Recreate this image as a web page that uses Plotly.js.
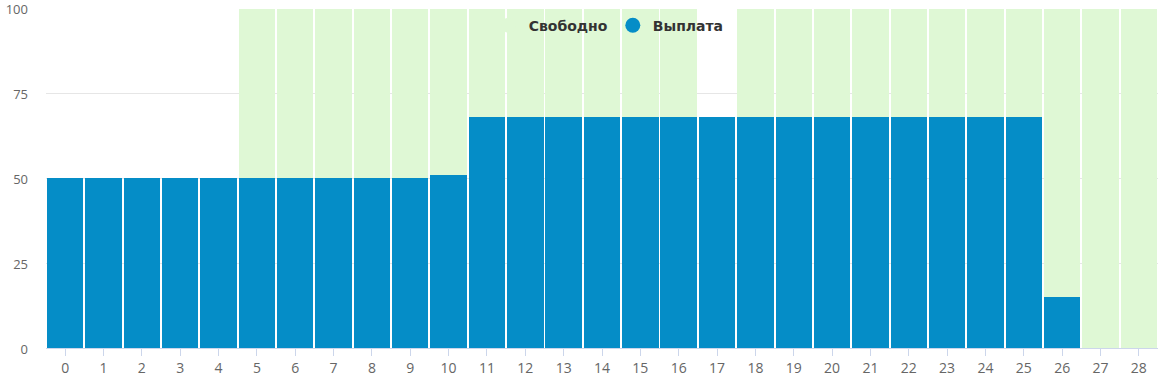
<!DOCTYPE html>
<html><head><meta charset="utf-8">
<script src="https://cdn.plot.ly/plotly-3.0.1.min.js"></script>
<style>html,body{margin:0;padding:0;background:#fff}#c{width:1158px;height:376px}</style>
</head><body><div id="c"></div>
<script>
const categories = ['0','1','2','3','4','5','6','7','8','9','10','11','12','13','14','15','16','17','18','19','20','21','22','23','24','25','26','27','28'];
const payout = [50,50,50,50,50,50,50,50,50,50,51,68,68,68,68,68,68,68.1,68,68,68,68,68,68,68,68,15,0,0];
const free = [0,0,0,0,0,50,50,50,50,50,49,32,32,32,32,32,32,0,32,32,32,32,32,32,32,32,85,100,100];
const yTicks = [0,25,50,75,100];
const blue = '#058dc7', green = '#dff8d5';
const traces = [
  {type:'bar', x:categories, y:payout, marker:{color:blue}, showlegend:false, hoverinfo:'y'},
  {type:'bar', x:categories, y:free, marker:{color:green}, showlegend:false, hoverinfo:'y'},
  {type:'scatter', mode:'markers', x:[null], y:[null], name:'Свободно', marker:{color:green, size:15, symbol:'circle'}},
  {type:'scatter', mode:'markers', x:[null], y:[null], name:'Выплата', marker:{color:blue, size:15, symbol:'circle'}}
];
const layout = {
  width:1158, height:376, barmode:'stack', bargap:0.05,
  margin:{l:46, r:0, t:8, b:28},
  paper_bgcolor:'#fff', plot_bgcolor:'#fff',
  font:{family:'"Open Sans", "DejaVu Sans", sans-serif', color:'#666', size:14},
  xaxis:{type:'category', showgrid:false, showline:true, linecolor:'#ccd6eb', ticks:'outside', ticklen:7, tickcolor:'#ccd6eb', tickfont:{size:14,color:'#666'}, fixedrange:true},
  yaxis:{range:[0,100.2], tickvals:yTicks, showgrid:true, gridcolor:'#e6e6e6', zeroline:false, showline:false, ticks:'', ticklabelstandoff:17, ticklabelshift:1, ticklabeloverflow:'allow', tickfont:{size:13,color:'#666'}},
  legend:{orientation:'h', traceorder:'normal', x:0.506, xanchor:'center', y:0.995, yanchor:'top', bgcolor:'rgba(0,0,0,0)', font:{family:'"DejaVu Sans", sans-serif', size:14, color:'#333', weight:'bold'}},
};
Plotly.newPlot('c', traces, layout, {displayModeBar:false, staticPlot:true});
</script></body></html>
